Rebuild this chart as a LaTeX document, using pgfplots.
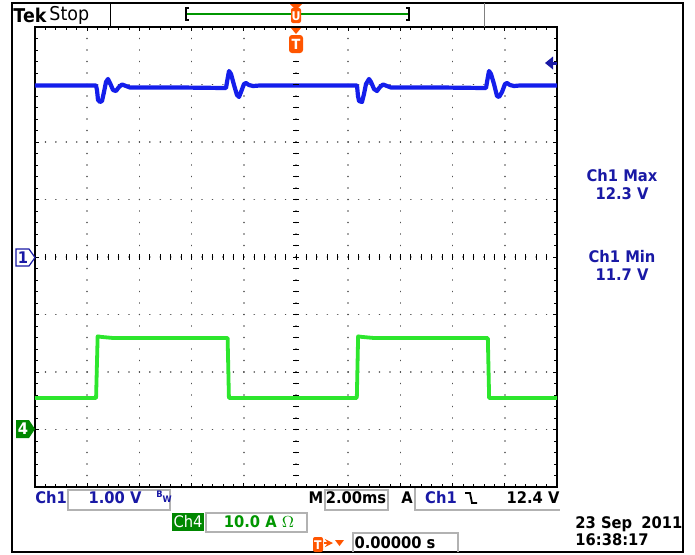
\documentclass[border=0pt]{standalone}
\usepackage{pgfplots}
\pgfplotsset{compat=1.18}
\usepackage{fontspec}
\setmainfont{DejaVu Sans}[FakeStretch=0.92]
\definecolor{trblue}{RGB}{20,30,235}
\definecolor{trgreen}{RGB}{45,230,45}
\definecolor{txblue}{RGB}{25,25,165}
\definecolor{txgreen}{RGB}{0,150,0}
\definecolor{boxgreen}{RGB}{0,135,0}
\definecolor{tkorange}{RGB}{255,85,0}
\definecolor{dotgray}{RGB}{80,80,80}
\begin{document}
\begin{tikzpicture}[x=0.5pt,y=-0.5pt,font=\fontsize{8}{9}\selectfont\bfseries]
\path[fill=white] (0,0) rectangle (695,554);
% graticule: x in ms (2 ms/div), y in divisions
\begin{axis}[at={(17.5pt,-13.5pt)}, anchor=north west, scale only axis,
  width=261pt, height=230pt,
  xmin=-10, xmax=10, ymin=-4, ymax=4,
  xtick distance=2, ytick distance=1,
  minor x tick num=4, minor y tick num=4,
  xticklabels={}, yticklabels={},
  tick align=inside, major tick length=2pt, minor tick length=1.5pt,
  tick style={black, line width=0.4pt},
  axis line style={line width=1pt},
  grid=major,
  major x grid style={dotgray, line width=0.8pt, line cap=round, dash pattern=on 0.01pt off 5.74pt},
  major y grid style={dotgray, line width=0.8pt, line cap=round, dash pattern=on 0.01pt off 5.21pt},
  ]
% Ch1 (blue)
\addplot[trblue, line width=2.1pt, line join=round] coordinates {
(-10.0,2.983) (-7.663,2.983) (-7.625,2.904) (-7.586,2.730) (-7.510,2.696)
(-7.433,2.713) (-7.356,2.870) (-7.280,3.043) (-7.203,3.096) (-7.126,3.026)
(-7.011,2.904) (-6.897,2.887) (-6.782,2.957) (-6.667,3.000) (-6.513,2.974)
(-6.360,2.948) (-4.444,2.948) (-2.682,2.939) (-2.644,3.043) (-2.567,3.235)
(-2.490,3.183) (-2.375,2.991) (-2.261,2.817) (-2.184,2.783) (-2.107,2.870)
(-1.992,3.009) (-1.916,3.026) (-1.801,2.991) (-1.648,2.974) (-1.379,2.983)
(2.337,2.983) (2.375,2.800) (2.414,2.713) (2.529,2.696) (2.605,2.835)
(2.682,3.009) (2.797,3.096) (2.874,3.043) (2.989,2.922) (3.103,2.887)
(3.218,2.957) (3.333,3.000) (3.487,2.974) (3.640,2.948) (5.517,2.948)
(7.280,2.939) (7.318,3.043) (7.395,3.235) (7.471,3.183) (7.586,3.009)
(7.701,2.800) (7.778,2.783) (7.893,2.870) (8.008,3.009) (8.084,3.026)
(8.199,2.991) (8.352,2.974) (8.582,2.983) (10.0,2.983)
};
% Ch4 (green)
\addplot[trgreen, line width=1.9pt, line join=round] coordinates {
(-10,-2.452) (-7.66,-2.452) (-7.60,-1.38) (-7.45,-1.39) (-7.0,-1.409)
(-2.62,-1.409) (-2.57,-2.452) (2.33,-2.452) (2.38,-1.38) (2.53,-1.39)
(3.0,-1.409) (7.35,-1.409) (7.40,-2.452) (10,-2.452)
};
\end{axis}
% centre cross ticks
\foreach \i in {0,...,50} \draw[black, line width=0.4pt] ({35+\i*10.44},254) -- ++(0,6);
\foreach \i in {0,...,40} \draw[black, line width=0.4pt] (293,{27+\i*11.5}) -- ++(6,0);
% outer frame and top bar
\draw[line width=1pt] (12,3) rectangle (683,552);
\draw[line width=0.5pt] (110,3) -- (110,27);
\draw[gray, line width=0.5pt] (484,3) -- (484,27);
\node[anchor=west, inner sep=0, font=\fontsize{9.5}{11}\selectfont\bfseries] at (13,15) {Tek};
\node[anchor=west, inner sep=0, font=\fontsize{9.5}{11}\selectfont] at (49,15) {Stop};
\draw[txgreen, line width=0.8pt] (187,14) -- (409,14);
\draw[black, line width=0.6pt] (189,8) -- (186,8) -- (186,20) -- (189,20);
\draw[black, line width=0.6pt] (406,8) -- (409,8) -- (409,20) -- (406,20);
\fill[tkorange] (290,4) -- (302,4) -- (296,10) -- cycle;
\fill[tkorange, rounded corners=1pt] (291,8) rectangle (301,23);
\node[white, inner sep=0, font=\fontsize{6}{6}\selectfont\bfseries] at (296,16) {U};
\fill[tkorange] (291,28) -- (301,28) -- (296,34) -- cycle;
\fill[tkorange, rounded corners=1.5pt] (289,35) rectangle (303,53);
\node[white, inner sep=0, font=\fontsize{7}{7}\selectfont\bfseries] at (296,44) {T};
% trigger level arrow
\fill[txblue] (545,63) -- (553,56.5) -- (553,69.5) -- cycle;
\draw[txblue, line width=1.5pt] (551,63) -- (557,63);
% channel markers
\draw[txblue, fill=white, line width=0.6pt] (16,249) -- (29,249) -- (35,257.5) -- (29,266) -- (16,266) -- cycle;
\node[txblue, inner sep=0] at (23,257.5) {1};
\fill[boxgreen] (16,420) -- (29,420) -- (35,429) -- (29,438) -- (16,438) -- cycle;
\node[white, inner sep=0] at (23,429) {4};
% right readouts
\node[txblue, align=center, inner sep=0] at (622,185) {Ch1 Max\\12.3 V};
\node[txblue, align=center, inner sep=0] at (622,265) {Ch1 Min\\11.7 V};
% bottom readouts
\node[txblue, anchor=west, inner sep=0] at (35,498) {Ch1};
\draw[gray!60, line width=0.6pt] (68,490) rectangle (170,510);
\node[txblue, inner sep=0] at (115,498) {1.00 V};
\node[txblue, inner sep=0, font=\fontsize{4.5}{5}\selectfont\bfseries] at (164,497) {\raisebox{1.2pt}{B}\raisebox{-1.2pt}{W}};
\node[inner sep=0] at (316,498) {M};
\draw[gray!60, line width=0.6pt] (325,490) rectangle (388,510);
\node[inner sep=0] at (356,498) {2.00ms};
\node[inner sep=0] at (407,498) {A};
\draw[gray!60, line width=0.6pt] (415,488) -- (415,510) -- (560,510);
\node[txblue, inner sep=0] at (441,498) {Ch1};
\draw[black, line width=0.9pt] (465,493) -- (470,493) -- (472,503) -- (477,503);
\node[inner sep=0] at (533,498) {12.4 V};
\fill[boxgreen] (172,513) rectangle (204,531);
\node[white, inner sep=0, font=\fontsize{8}{9}\selectfont] at (188,522) {Ch4};
\draw[gray!60, line width=0.6pt] (206,513) rectangle (307,532);
\node[txgreen, inner sep=0] at (259,522) {10.0 A $\Omega$};
\fill[tkorange, rounded corners=1pt] (313,537) rectangle (323,552);
\node[white, inner sep=0, font=\fontsize{6}{6}\selectfont\bfseries] at (318,545) {T};
\draw[tkorange, line width=0.8pt, -stealth] (324,543) -- (333,543);
\fill[tkorange] (335,540) -- (344,540) -- (339.5,546) -- cycle;
\draw[gray!60, line width=0.6pt] (353,552) -- (353,533) -- (458,533) -- (458,552);
\node[inner sep=0] at (395,543) {0.00000 s};
\node[anchor=west, inner sep=0] at (575,524) {23 Sep\hspace{0.25em} 2011};
\node[anchor=west, inner sep=0] at (575,540) {16:38:17};
\end{tikzpicture}
\end{document}
